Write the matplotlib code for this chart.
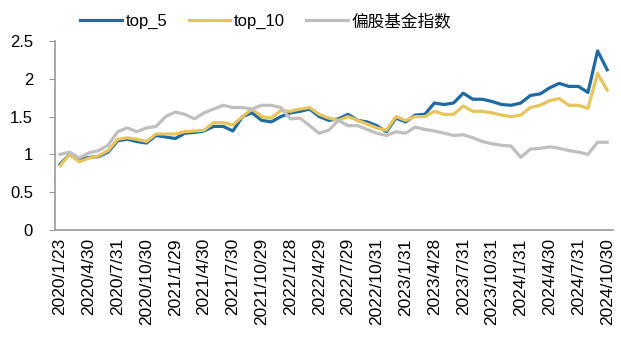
import matplotlib
matplotlib.use("Agg")
import matplotlib.pyplot as plt

plt.rcParams['font.family'] = ['Liberation Sans', 'Noto Sans CJK SC', 'DejaVu Sans']

dates = ["2020/1/23","2020/2/28","2020/3/31","2020/4/30","2020/5/29","2020/6/30",
         "2020/7/31","2020/8/31","2020/9/30","2020/10/30","2020/11/30","2020/12/31",
         "2021/1/29","2021/2/26","2021/3/31","2021/4/30","2021/5/31","2021/6/30",
         "2021/7/30","2021/8/31","2021/9/30","2021/10/29","2021/11/30","2021/12/31",
         "2022/1/28","2022/2/28","2022/3/31","2022/4/29","2022/5/31","2022/6/30",
         "2022/7/29","2022/8/31","2022/9/30","2022/10/31","2022/11/30","2022/12/30",
         "2023/1/31","2023/2/28","2023/3/31","2023/4/28","2023/5/31","2023/6/30",
         "2023/7/31","2023/8/31","2023/9/28","2023/10/31","2023/11/30","2023/12/29",
         "2024/1/31","2024/2/29","2024/3/29","2024/4/30","2024/5/31","2024/6/28",
         "2024/7/31","2024/8/30","2024/9/30","2024/10/30"]

top_5 = [0.87, 1.00, 0.93, 0.96, 0.97, 1.03, 1.18, 1.20, 1.17, 1.15,
         1.25, 1.23, 1.21, 1.28, 1.29, 1.31, 1.37, 1.37, 1.31, 1.50,
         1.55, 1.45, 1.43, 1.50, 1.55, 1.57, 1.60, 1.50, 1.45, 1.47,
         1.53, 1.45, 1.43, 1.38, 1.30, 1.48, 1.43, 1.52, 1.53, 1.68,
         1.66, 1.68, 1.81, 1.73, 1.73, 1.70, 1.66, 1.65, 1.68, 1.78,
         1.80, 1.88, 1.94, 1.90, 1.90, 1.82, 2.37, 2.12]

top_10 = [0.85, 1.00, 0.90, 0.95, 0.98, 1.05, 1.20, 1.22, 1.20, 1.17,
          1.27, 1.27, 1.27, 1.30, 1.31, 1.32, 1.42, 1.42, 1.39, 1.50,
          1.60, 1.50, 1.48, 1.58, 1.57, 1.60, 1.62, 1.53, 1.48, 1.45,
          1.50, 1.45, 1.40, 1.35, 1.32, 1.50, 1.45, 1.50, 1.50, 1.57,
          1.53, 1.53, 1.64, 1.57, 1.57, 1.55, 1.52, 1.50, 1.52, 1.62,
          1.65, 1.71, 1.74, 1.65, 1.65, 1.61, 2.07, 1.85]

fund_index = [1.00, 1.03, 0.95, 1.02, 1.05, 1.12, 1.30, 1.35, 1.30, 1.35,
              1.37, 1.50, 1.56, 1.53, 1.47, 1.55, 1.60, 1.65, 1.62, 1.62,
              1.60, 1.65, 1.65, 1.62, 1.47, 1.48, 1.38, 1.28, 1.32, 1.45,
              1.38, 1.38, 1.33, 1.28, 1.25, 1.30, 1.28, 1.36, 1.33, 1.31,
              1.28, 1.25, 1.26, 1.22, 1.17, 1.14, 1.12, 1.11, 0.96, 1.07,
              1.08, 1.10, 1.08, 1.05, 1.03, 1.00, 1.16, 1.16]

series_names = ["top_5", "top_10", "偏股基金指数"]
colors = ["#1f6aa5", "#e8c55c", "#bfbfbf"]

fig = plt.figure(figsize=(6.21, 3.51), dpi=100)
ax = fig.add_axes([0.089, 0.345, 0.898, 0.538])

x = list(range(len(dates)))
for vals, name, c in zip([top_5, top_10, fund_index], series_names, colors):
    ax.plot(x, vals, color=c, lw=2.3, label=name, solid_joinstyle='round')

ax.set_ylim(0, 2.5)
ax.set_yticks([0, 0.5, 1, 1.5, 2, 2.5])
ax.set_yticklabels(["0", "0.5", "1", "1.5", "2", "2.5"])
ax.set_xlim(-0.5, len(dates) - 0.4)
ax.set_xticks(x[::3])
ax.set_xticklabels(dates[::3], rotation=90)
ax.tick_params(axis='x', length=0, labelsize=12.5, pad=6)
ax.tick_params(axis='y', length=4, labelsize=12, color='#999999', pad=12)

for s in ['top', 'right']:
    ax.spines[s].set_visible(False)
for s in ['left', 'bottom']:
    ax.spines[s].set_color('#999999')
    ax.spines[s].set_linewidth(1.2)

leg = fig.legend(loc='upper center', bbox_to_anchor=(0.428, 1.005), ncol=3, frameon=False,
                 fontsize=12, handlelength=2.5, handletextpad=0.2, columnspacing=1.3)

fig.savefig("out.png", dpi=100)
